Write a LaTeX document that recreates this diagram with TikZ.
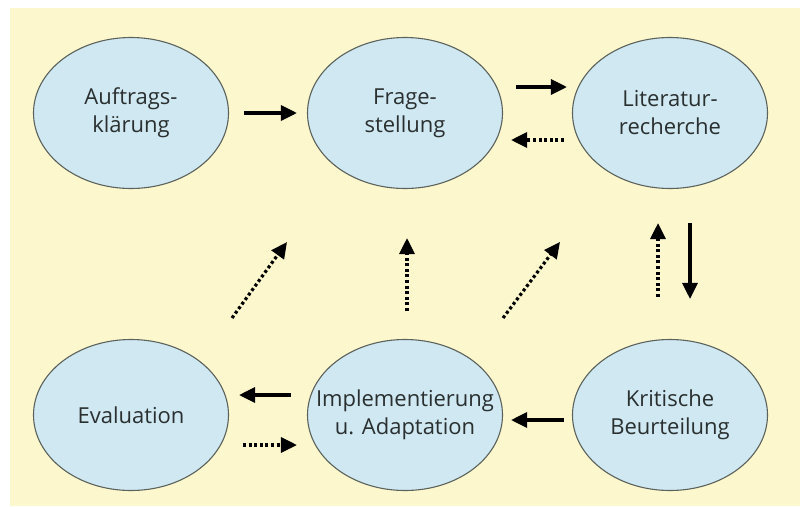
\documentclass[tikz,border=0pt]{standalone}
\usepackage{fontspec}
\setsansfont{Open Sans}
\usetikzlibrary{arrows.meta,calc,shapes.geometric}
\definecolor{CycleBack}{HTML}{FDF7CD}
\definecolor{CycleFill}{HTML}{CFE8F2}
\definecolor{CycleLine}{HTML}{5C625C}
\definecolor{CycleText}{HTML}{2A2F2F}

\begin{document}
\begin{tikzpicture}[x=1pt,y=-1pt,
    phasetext/.style={align=center,text=CycleText,inner sep=0pt,
      font=\sffamily\fontsize{22}{28}\selectfont},
    phase/.style={ellipse,draw=CycleLine,line width=1.1pt,fill=CycleFill,
      minimum width=195pt,minimum height=151pt,inner sep=0pt,
      label={[phasetext]center:#1}},
    go/.style={-{Triangle[length=16pt,width=15pt]},line width=3.2pt,black},
    back/.style={go,dash pattern=on 3pt off 2.6pt}]
        \useasboundingbox (0,0) rectangle (800,506);
        \fill[white] (0,0) rectangle (800,506);
        \fill[CycleBack] (10,8) rectangle (800,506);

        % top row
        \node[phase={Auftrags-\\klärung}] (auftrag) at (131,113) {};
        \node[phase={Frage-\\stellung}] (frage) at (405,113) {};
        \node[phase={Literatur-\\recherche}] (literatur) at (670,113) {};

        % bottom row
        \node[phase={Evaluation}] (evaluation) at (131,415) {};
        \node[phase={Implementierung\\u. Adaptation}] (implement) at (405,415) {};
        \node[phase={Kritische\\Beurteilung}] (kritik) at (670,415) {};

        % main path
        \draw[go,shorten <=15pt,shorten >=10pt]
          (auftrag.east) -- (frage.west);
        \draw[go,shorten <=13pt,shorten >=5pt]
          ([yshift=26pt]frage.east) -- ([yshift=26pt]literatur.west);
        \draw[go,shorten <=34pt,shorten >=40pt]
          ([xshift=20pt]literatur.south) -- ([xshift=20pt]kritik.north);
        \draw[go,shorten <=8pt,shorten >=8pt]
          ([yshift=-5pt]kritik.west) -- ([yshift=-5pt]implement.east);
        \draw[go,shorten <=16pt,shorten >=10pt]
          ([yshift=20pt]implement.west) -- ([yshift=20pt]evaluation.east);

        % feedback
        \draw[back,shorten <=8pt,shorten >=8pt]
          ([yshift=-27pt]literatur.west) -- ([yshift=-27pt]frage.east);
        \draw[back,shorten <=42pt,shorten >=34pt]
          ([xshift=-12pt]kritik.north) -- ([xshift=-12pt]literatur.south);
        \draw[back,shorten <=14pt,shorten >=10pt]
          ([yshift=-30pt]evaluation.east) -- ([yshift=-30pt]implement.west);
        \draw[back]
          ([shift={(101,-97)}]evaluation.center) -- ([shift={(-118,129)}]frage.center);
        \draw[back,shorten <=28pt,shorten >=49pt]
          ([xshift=2pt]implement.north) -- ([xshift=2pt]frage.south);
        \draw[back]
          ([shift={(98,-97)}]implement.center) -- ([shift={(-110,129)}]literatur.center);
      \end{tikzpicture}
\end{document}
